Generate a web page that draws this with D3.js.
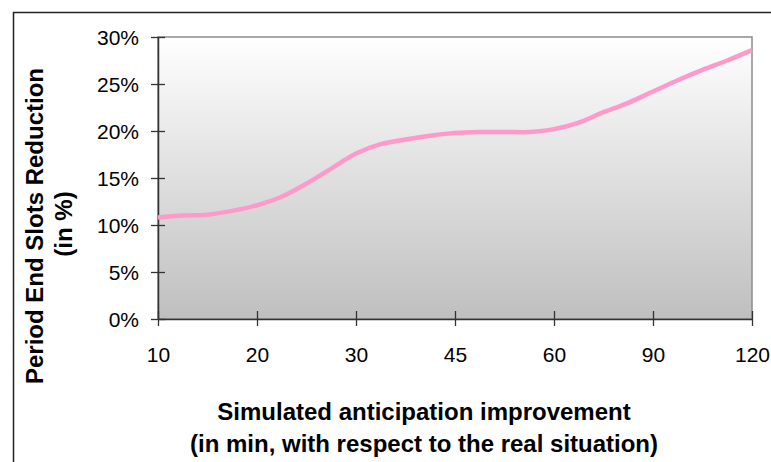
<!DOCTYPE html>
<html>
<head>
<meta charset="utf-8">
<script src="https://cdn.jsdelivr.net/npm/d3@7"></script>
<style>
  body { margin: 0; background: #fff; }
  text { font-family: Arial, "Liberation Sans", sans-serif; fill: #000; }
  .axis-title { font-weight: bold; font-size: 24px; }
  .tick-label { font-size: 21px; }
</style>
</head>
<body>
<div id="chart"></div>
<script>
// simulated anticipation improvement, one point per step, labelled every 4th
const tickLabels = ['10', '20', '30', '45', '60', '90', '120'];
const stepsPerLabel = 4;

// period end slots reduction (%)
const reduction = [10.8, 11.0, 11.1, 11.5, 12.1, 13.0, 14.4, 16.0, 17.6,
  18.6, 19.1, 19.5, 19.8, 19.9, 19.9, 19.9, 20.2, 20.9, 22.0, 23.0,
  24.2, 25.4, 26.5, 27.5, 28.6];

const yTicks = [0, 5, 10, 15, 20, 25, 30];

const W = 771, H = 462;
const plot = { left: 158, right: 752, top: 37, bottom: 319 };

const svg = d3.select('#chart').append('svg')
  .attr('width', W)
  .attr('height', H);

const x = d3.scalePoint(d3.range(reduction.length), [plot.left, plot.right]);
const y = d3.scaleLinear([0, 30], [plot.bottom, plot.top]);

// outer frame (only top & left are inside the picture)
svg.append('path')
  .attr('d', `M13.5,${H} V12.5 H${W}`)
  .attr('fill', 'none')
  .attr('stroke', '#222')
  .attr('stroke-width', 1.5);

// plot background gradient
const grad = svg.append('defs').append('linearGradient')
  .attr('id', 'bg')
  .attr('x1', 0).attr('y1', 0).attr('x2', 0).attr('y2', 1);
grad.append('stop').attr('offset', '0%').attr('stop-color', '#ffffff');
grad.append('stop').attr('offset', '100%').attr('stop-color', '#bfbfbf');

svg.append('rect')
  .attr('x', plot.left)
  .attr('y', plot.top)
  .attr('width', plot.right - plot.left)
  .attr('height', plot.bottom - plot.top)
  .attr('fill', 'url(#bg)')
  .attr('stroke', '#8c8c8c')
  .attr('stroke-width', 1.5);

// y axis
const yAxis = svg.append('g')
  .attr('transform', `translate(${plot.left},0)`)
  .call(d3.axisLeft(y).tickValues(yTicks).tickSize(0).tickPadding(19)
    .tickFormat(d => d + '%'));
yAxis.select('.domain').attr('stroke', '#333').attr('stroke-width', 1.5);
yAxis.selectAll('.tick line')
  .attr('x1', -7).attr('x2', 7)
  .attr('stroke', '#333').attr('stroke-width', 1.3);
yAxis.selectAll('.tick text')
  .attr('class', 'tick-label')
  .attr('font-family', null).attr('font-size', null)
  .attr('dy', '0.36em');

// x axis
const labelIdx = tickLabels.map((d, i) => i * stepsPerLabel);
const xAxis = svg.append('g')
  .attr('transform', `translate(0,${plot.bottom})`)
  .call(d3.axisBottom(x).tickValues(labelIdx).tickSize(0).tickPadding(28)
    .tickFormat(i => tickLabels[i / stepsPerLabel]));
xAxis.select('.domain').attr('stroke', '#333').attr('stroke-width', 1.5);
xAxis.selectAll('.tick line')
  .attr('y1', -8).attr('y2', 7)
  .attr('stroke', '#333').attr('stroke-width', 1.3);
xAxis.selectAll('.tick text')
  .attr('class', 'tick-label')
  .attr('font-family', null).attr('font-size', null);

// line
const line = d3.line()
  .x((d, i) => x(i))
  .y(d => y(d))
  .curve(d3.curveCatmullRom.alpha(0.5));

svg.append('path')
  .datum(reduction)
  .attr('d', line)
  .attr('fill', 'none')
  .attr('stroke', '#ff99cc')
  .attr('stroke-width', 4.5)
  .attr('stroke-linejoin', 'round');

// axis titles
svg.append('text')
  .attr('class', 'axis-title')
  .attr('text-anchor', 'middle')
  .attr('x', 424).attr('y', 420)
  .text('Simulated anticipation improvement');
svg.append('text')
  .attr('class', 'axis-title')
  .attr('text-anchor', 'middle')
  .attr('x', 424).attr('y', 452)
  .text('(in min, with respect to the real situation)');

svg.append('text')
  .attr('class', 'axis-title')
  .attr('text-anchor', 'middle')
  .attr('transform', 'translate(43,226) rotate(-90)')
  .text('Period End Slots Reduction');
svg.append('text')
  .attr('class', 'axis-title')
  .attr('text-anchor', 'middle')
  .attr('transform', 'translate(72,224) rotate(-90)')
  .text('(in %)');
</script>
</body>
</html>
